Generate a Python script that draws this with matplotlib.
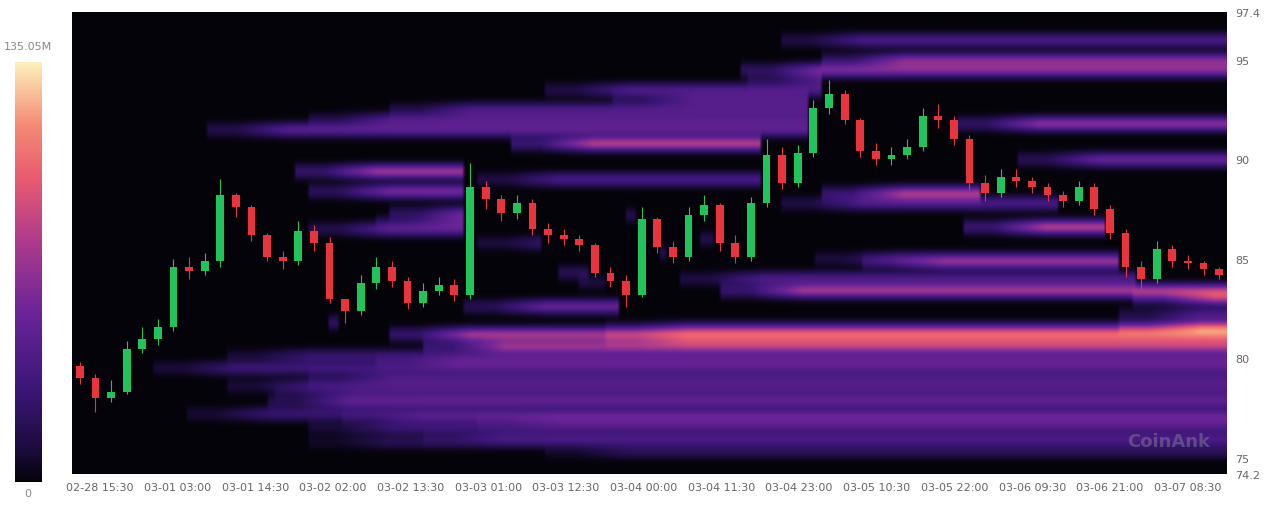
import numpy as np
import matplotlib.pyplot as plt
from matplotlib.colors import LinearSegmentedColormap

# candles of ~2h20m, first candle starts 02-28 11:20
closes = [79.0, 78.0, 78.3, 80.5, 81.0, 81.6, 84.6, 84.4, 84.9, 88.2,
          87.6, 86.2, 85.1, 84.9, 86.4, 85.8, 83.0, 82.4, 83.8, 84.6,
          83.9, 82.8, 83.4, 83.7, 83.2, 88.6, 88.0, 87.3, 87.8, 86.5,
          86.2, 86.0, 85.7, 84.3, 83.9, 83.2, 87.0, 85.6, 85.1, 87.2,
          87.7, 85.8, 85.1, 87.8, 90.2, 88.8, 90.3, 92.6, 93.3, 92.0,
          90.4, 90.0, 90.2, 90.6, 92.2, 92.0, 91.0, 88.8, 88.3, 89.1,
          88.9, 88.6, 88.2, 87.9, 88.6, 87.5, 86.3, 84.6, 84.0, 85.5,
          84.9, 84.8, 84.5, 84.2]
first_open = 79.6
highs = [79.8, 79.2, 78.9, 80.9, 81.6, 82.0, 85.0, 85.1, 85.3, 89.0,
         88.3, 87.7, 86.3, 85.4, 86.9, 86.7, 86.1, 83.0, 84.2, 85.1,
         84.9, 84.1, 83.8, 84.1, 84.0, 89.8, 88.9, 88.2, 88.2, 88.0,
         86.8, 86.5, 86.2, 85.8, 84.6, 84.2, 87.6, 87.1, 85.9, 87.6,
         88.2, 87.8, 86.2, 88.1, 91.0, 90.6, 90.7, 93.0, 94.0, 93.5,
         92.1, 90.8, 90.6, 91.0, 92.6, 92.8, 92.2, 91.2, 89.2, 89.5,
         89.5, 89.1, 88.8, 88.4, 88.9, 88.8, 87.7, 86.5, 84.9, 85.9,
         85.7, 85.2, 84.9, 84.6]
lows = [78.7, 77.3, 77.8, 78.2, 80.3, 80.7, 81.4, 84.0, 84.2, 84.6,
        87.1, 85.9, 84.9, 84.5, 84.7, 85.4, 82.8, 81.8, 82.2, 83.5,
        83.6, 82.5, 82.6, 83.2, 82.9, 83.0, 87.5, 86.9, 87.0, 86.2,
        85.8, 85.7, 85.4, 84.1, 83.6, 82.6, 83.1, 85.3, 84.8, 84.9,
        86.9, 85.4, 84.8, 84.9, 87.6, 88.5, 88.6, 90.1, 92.3, 91.8,
        90.1, 89.7, 89.7, 90.0, 90.4, 91.6, 90.7, 88.5, 87.9, 88.1,
        88.6, 88.3, 87.9, 87.6, 87.7, 87.2, 86.0, 84.1, 83.5, 83.8,
        84.6, 84.5, 84.2, 84.0]

# liquidation levels: price, hour it appears, relative strength
band_price = [79.5, 78.6, 77.8, 77.2, 76.5, 75.8, 79.0, 80.1, 76.0, 75.3,
              81.8, 81.2, 80.6, 81.5, 80.9, 81.6, 82.2,
              83.4, 83.0, 84.3, 86.0, 86.6, 87.2, 88.3,
              89.4, 90.8, 88.4, 87.3, 86.5, 91.5, 92.5, 93.5,
              94.5, 95.0, 96.0, 91.8, 90.0, 82.6, 85.3, 84.8,
              78.2, 77.0, 79.8, 76.8, 89.0, 92.0, 93.0, 94.0,
              85.8, 86.9, 84.0, 87.8, 85.0, 83.8]
band_start = [12, 23, 29, 17, 35, 35, 35, 23, 52, 70,
              38, 47, 52, 79, 79, 155, 155,
              96, 157, 72, 93, 132, 82, 111,
              33, 65, 35, 47, 35, 20, 47, 70,
              99, 111, 105, 131, 140, 58, 87, 117,
              30, 40, 45, 60, 60, 35, 80, 100,
              60, 45, 90, 105, 110, 75]
band_strength = [0.2, 0.2, 0.28, 0.18, 0.18, 0.12, 0.2, 0.18, 0.15, 0.12,
                 0.42, 0.5, 0.45, 0.22, 0.2, 0.35, 0.25,
                 0.5, 0.45, 0.35, 0.3, 0.55, 0.3, 0.5,
                 0.5, 0.55, 0.4, 0.35, 0.3, 0.3, 0.25, 0.25,
                 0.4, 0.4, 0.25, 0.45, 0.35, 0.35, 0.3, 0.3,
                 0.15, 0.15, 0.18, 0.12, 0.25, 0.25, 0.25, 0.25,
                 0.22, 0.22, 0.25, 0.25, 0.22, 0.22]

time_labels = ["02-28 15:30", "03-01 03:00", "03-01 14:30", "03-02 02:00",
               "03-02 13:30", "03-03 01:00", "03-03 12:30", "03-04 00:00",
               "03-04 11:30", "03-04 23:00", "03-05 10:30", "03-05 22:00",
               "03-06 09:30", "03-06 21:00", "03-07 08:30"]

span = 171.0
candle_h = span / len(closes)
p_lo, p_hi = 74.2, 97.4

# build heatmap grid; a level vanishes once a candle trades through it
tgrid = np.arange(0, span, 0.5)
pgrid = np.arange(p_lo, p_hi, 0.05)
Z = np.zeros((len(pgrid), len(tgrid)))
for bp, bs, st in zip(band_price, band_start, band_strength):
    end = span
    for i in range(int(bs // candle_h) + 1, len(closes)):
        if lows[i] <= bp <= highs[i]:
            end = candle_h * i
            break
    active = (tgrid >= bs) & (tgrid < end)
    ramp = np.clip((tgrid - bs) / 12.0, 0.35, 1.0)
    prof = np.exp(-0.5 * ((pgrid - bp) / 0.26) ** 2)
    Z += st * np.outer(prof, active * ramp)
Z = np.clip(Z, 0, 1)

cmap = LinearSegmentedColormap.from_list("liq", [
    (0.0, "#05030a"), (0.08, "#1c0c3e"), (0.22, "#3c1678"), (0.4, "#6a2498"),
    (0.58, "#b03c8c"), (0.72, "#e85a72"), (0.85, "#f58a74"), (1.0, "#fdf0bc")])

fig = plt.figure(figsize=(12.8, 5.06), dpi=100)
ax = fig.add_axes([72 / 1280, 31 / 506, 1155 / 1280, 462 / 506])
ax.imshow(Z, cmap=cmap, vmin=0, vmax=1, origin="lower", aspect="auto",
          extent=[0, span, p_lo, p_hi], interpolation="bilinear")

opens = [first_open] + closes[:-1]
for i, (o, c, h, l) in enumerate(zip(opens, closes, highs, lows)):
    x = candle_h * (i + 0.5)
    col = "#21c45a" if c >= o else "#e8343c"
    ax.vlines(x, l, h, color=col, lw=0.8)
    ax.bar(x, abs(c - o) or 0.05, bottom=min(o, c), width=candle_h * 0.5,
           color=col, lw=0)

ax.yaxis.tick_right()
yt = [74.2, 75, 80, 85, 90, 95, 97.4]
ax.set_yticks(yt)
ax.set_yticklabels(["74.2", "75", "80", "85", "90", "95", "97.4"])
ax.set_xticks([4.15 + 11.5 * k for k in range(len(time_labels))])
ax.set_xticklabels(time_labels)
ax.set_xlim(0, span)
ax.set_ylim(p_lo, p_hi)
ax.tick_params(length=0, labelsize=8, colors="#666666", pad=6)
for s in ax.spines.values():
    s.set_visible(False)
ax.text(0.985, 0.06, "CoinAnk", transform=ax.transAxes, ha="right",
        fontsize=13, color="#8a8a9a", alpha=0.45, fontweight="bold")

cax = fig.add_axes([15 / 1280, 23 / 506, 27 / 1280, 420 / 506])
cax.imshow(np.linspace(0, 1, 256)[:, None], cmap=cmap, origin="lower",
           aspect="auto")
cax.set_axis_off()
fig.text(28 / 1280, 1 - 47 / 506, "135.05M", ha="center", va="center",
         fontsize=8, color="#888888")
fig.text(28 / 1280, 1 - 494 / 506, "0", ha="center", va="center",
         fontsize=8, color="#888888")

fig.savefig("out.png", dpi=100, facecolor="white")
